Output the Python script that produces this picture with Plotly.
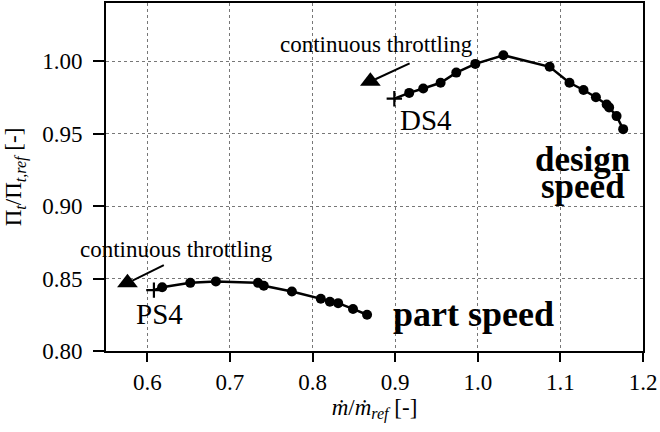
import plotly.graph_objects as go

# Design speed characteristic
ds_mdot = [0.917, 0.934, 0.955, 0.974, 0.997, 1.031, 1.087, 1.111, 1.128, 1.143, 1.156, 1.159, 1.168, 1.176]
ds_pi = [0.978, 0.981, 0.985, 0.992, 0.998, 1.004, 0.996, 0.985, 0.980, 0.975, 0.970, 0.968, 0.962, 0.953]
ds4_mdot = [0.899]
ds4_pi = [0.974]
ds_throttle_mdot = [0.870]
ds_throttle_pi = [0.986]

# Part speed characteristic
ps_mdot = [0.618, 0.652, 0.683, 0.734, 0.741, 0.775, 0.810, 0.821, 0.831, 0.849, 0.866]
ps_pi = [0.844, 0.847, 0.848, 0.847, 0.845, 0.841, 0.836, 0.834, 0.833, 0.829, 0.825]
ps4_mdot = [0.608]
ps4_pi = [0.842]
ps_throttle_mdot = [0.576]
ps_throttle_pi = [0.847]

x_ticks = [0.6, 0.7, 0.8, 0.9, 1.0, 1.1, 1.2]
x_tick_labels = ["0.6", "0.7", "0.8", "0.9", "1.0", "1.1", "1.2"]
y_ticks = [0.80, 0.85, 0.90, 0.95, 1.00]
y_tick_labels = ["0.80", "0.85", "0.90", "0.95", "1.00"]

FONT = "Liberation Serif"

fig = go.Figure()

# connecting lines (from the cross point through the circles)
fig.add_trace(go.Scatter(x=ds4_mdot + ds_mdot, y=ds4_pi + ds_pi, mode="lines",
                         line=dict(color="black", width=2.5), showlegend=False))
fig.add_trace(go.Scatter(x=ps4_mdot + ps_mdot, y=ps4_pi + ps_pi, mode="lines",
                         line=dict(color="black", width=2.5), showlegend=False))
for xs, ys in [(ds_mdot, ds_pi), (ps_mdot, ps_pi)]:
    fig.add_trace(go.Scatter(x=xs, y=ys, mode="markers",
                             marker=dict(symbol="circle", size=10, color="black"),
                             showlegend=False))
for xs, ys in [(ds4_mdot, ds4_pi), (ps4_mdot, ps4_pi)]:
    fig.add_trace(go.Scatter(x=xs, y=ys, mode="markers",
                             marker=dict(symbol="cross-thin", size=11,
                                         line=dict(color="black", width=2.2)),
                             showlegend=False))
for xs, ys in [(ds_throttle_mdot, ds_throttle_pi), (ps_throttle_mdot, ps_throttle_pi)]:
    fig.add_trace(go.Scatter(x=xs, y=ys, mode="markers",
                             marker=dict(symbol="triangle-up", size=18, color="black"),
                             showlegend=False))

# arrows (lines) pointing to throttling triangles
fig.add_shape(type="line", x0=0.9175, y0=0.9984, x1=0.876, y1=0.9874,
              line=dict(color="black", width=2))
fig.add_shape(type="line", x0=0.620, y0=0.8593, x1=0.582, y1=0.8485,
              line=dict(color="black", width=2))

ann = [
    dict(x=0.877, y=1.0117, text="continuous throttling", size=23, bold=False),
    dict(x=0.6355, y=0.8700, text="continuous throttling", size=23, bold=False),
    dict(x=0.937, y=0.9590, text="DS4", size=29, bold=False),
    dict(x=0.6145, y=0.8255, text="PS4", size=29, bold=False),
    dict(x=1.127, y=0.9324, text="design", size=35, bold=True),
    dict(x=1.127, y=0.9134, text="speed", size=35, bold=True),
    dict(x=0.9946, y=0.8255, text="part speed", size=36, bold=True),
]
for a in ann:
    txt = "<b>%s</b>" % a["text"] if a["bold"] else a["text"]
    fig.add_annotation(x=a["x"], y=a["y"], text=txt, showarrow=False,
                       xanchor="center", yanchor="middle",
                       font=dict(family=FONT, size=a["size"], color="black"))

fig.update_layout(
    width=660, height=432,
    margin=dict(l=106, r=17, t=3, b=81),
    paper_bgcolor="white", plot_bgcolor="white",
    font=dict(family=FONT, color="black", size=23),
    showlegend=False,
)
fig.update_xaxes(
    range=[0.55, 1.2], tickvals=x_ticks, ticktext=x_tick_labels,
    showline=True, linecolor="black", linewidth=2, mirror=True,
    ticks="outside", ticklen=9, tickwidth=2, tickcolor="black",
    showgrid=True, gridcolor="#777777", gridwidth=1, griddash="dot",
    zeroline=False, tickfont=dict(size=23), automargin=False,
    title=dict(text="<i>ṁ</i>/<i>ṁ</i><sub><i>ref</i></sub> [-]", font=dict(size=23), standoff=4),
)
fig.update_yaxes(
    range=[0.80, 1.04], tickvals=y_ticks, ticktext=y_tick_labels,
    showline=True, linecolor="black", linewidth=2, mirror=True,
    ticks="outside", ticklen=11, tickwidth=2, tickcolor="black",
    showgrid=True, gridcolor="#777777", gridwidth=1, griddash="dot",
    zeroline=False, tickfont=dict(size=23), automargin=False, ticklabelstandoff=6,
    title=dict(text="Π<sub><i>t</i></sub>/Π<sub><i>t,ref</i></sub> [-]", font=dict(size=23), standoff=14),
)

fig.write_html("out.html", config={"displayModeBar": False},
               post_script="document.body.style.margin='0';")
